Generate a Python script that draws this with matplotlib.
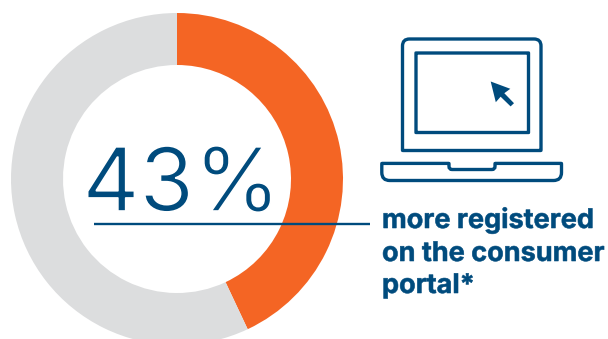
import matplotlib
matplotlib.use("Agg")
import matplotlib.pyplot as plt
import matplotlib.patheffects as pe
from matplotlib.patches import PathPatch, Polygon
from matplotlib.path import Path

# Share of registered users shown on the ring
shares = [43, 57]
ring_colors = ["#F46524", "#DCDDDE"]
headline = "43%"
caption_lines = ["more registered", "on the consumer", "portal*"]

NAVY = "#004B7D"
W, H = 608, 339

fig = plt.figure(figsize=(W / 100, H / 100), dpi=100, facecolor="white")
ax = fig.add_axes([0, 0, 1, 1])

ax.pie(shares, colors=ring_colors, startangle=90, counterclock=False,
       center=(177, H - 179), radius=166,
       wedgeprops=dict(width=52, linewidth=0))
ax.set_xlim(0, W)
ax.set_ylim(0, H)
ax.set_aspect("equal")
ax.axis("off")


def flip(points):
    return [(x, H - y) for x, y in points]


def rounded_path(corners, r):
    """Closed path through corners; r holds the corner radius of each vertex."""
    verts, codes = [], []
    n = len(corners)
    for i, (x, y) in enumerate(corners):
        px, py = corners[i - 1]
        nx, ny = corners[(i + 1) % n]
        rad = r[i]

        def step(ax_, ay_, bx_, by_):
            d = ((bx_ - ax_) ** 2 + (by_ - ay_) ** 2) ** 0.5
            return ax_ + (bx_ - ax_) * rad / d, ay_ + (by_ - ay_) * rad / d

        start = step(x, y, px, py)
        end = step(x, y, nx, ny)
        verts.append(start)
        codes.append(Path.MOVETO if i == 0 else Path.LINETO)
        verts += [(x, y), end]
        codes += [Path.CURVE3, Path.CURVE3]
    verts.append(verts[0])
    codes.append(Path.CLOSEPOLY)
    return Path(flip(verts), codes)


icon_lw = 2.4
icon_style = dict(facecolor="none", edgecolor=NAVY, linewidth=icon_lw, joinstyle="miter")

# Laptop lid, screen and base
lid = rounded_path([(402.5, 39), (541, 39), (541, 150.5), (402.5, 150.5)], [7, 7, 0.5, 0.5])
screen = rounded_path([(416, 53), (528.5, 53), (528.5, 132.5), (416, 132.5)], [0.1] * 4)
base = rounded_path(
    [(381.8, 163.4), (449, 163.4), (449, 169.5), (495, 169.5), (495, 163.4),
     (561.5, 163.4), (561.5, 180.5), (381.8, 180.5)],
    [0.5, 0.5, 3, 3, 0.5, 0.5, 8, 8])
for p in (lid, screen, base):
    ax.add_patch(PathPatch(p, **icon_style))

# Pointer inside the screen
ax.add_patch(Polygon(flip([(490.7, 81.5), (510.3, 88.8), (504.3, 93.2), (514, 103.2),
                           (510.6, 106.4), (500.6, 96.7), (495.8, 102.2)]),
                     closed=True, facecolor=NAVY, edgecolor="none"))

# Headline figure, thinned with a white outline, and the rule out to the caption
ax.text(82.5, H - 211, headline, color=NAVY, fontsize=63.5, family="Inter",
        fontweight="normal", ha="left", va="baseline",
        path_effects=[pe.Stroke(linewidth=1.2, foreground="white")])
ax.plot([93.5, 370], [H - 224.3, H - 224.3], color=NAVY, linewidth=1.7, solid_capstyle="butt")

baselines = [228, 261, 293]
for line, y in zip(caption_lines, baselines):
    ax.text(382, H - y, line, color=NAVY, fontsize=19.5, family="Inter",
            fontweight="bold", ha="left", va="baseline",
            path_effects=[pe.Stroke(linewidth=0.4, foreground=NAVY)])

fig.savefig("out.png", dpi=100, facecolor="white")
